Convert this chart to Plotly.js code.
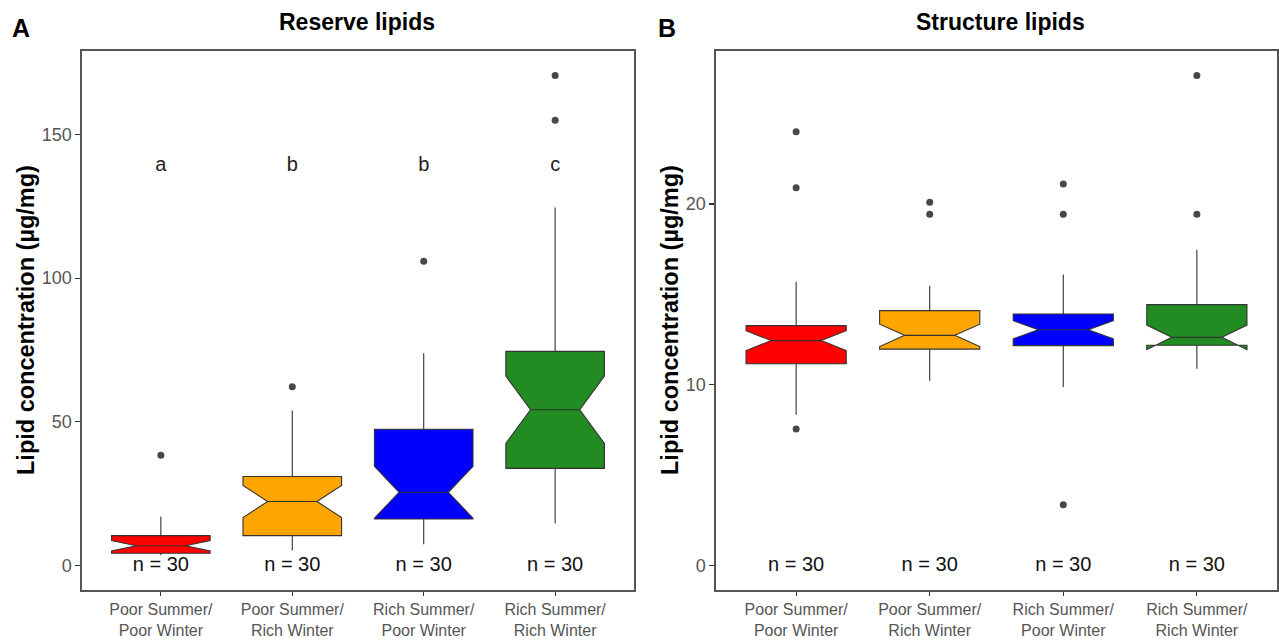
<!DOCTYPE html>
<html><head><meta charset="utf-8">
<script src="https://cdn.plot.ly/plotly-3.0.1.min.js"></script>
<style>body{margin:0;background:#fff}#chart{width:1279px;height:641px}</style>
</head><body><div id="chart"></div>
<script>
const groups = ['PP', 'PR', 'RP', 'RR'];
const groupLabels = ['Poor Summer/<br>Poor Winter', 'Poor Summer/<br>Rich Winter', 'Rich Summer/<br>Poor Winter', 'Rich Summer/<br>Rich Winter'];
const colors = ['#FF0000', '#FFA500', '#0000FF', '#228B22'];
const nLabels = ['n = 30', 'n = 30', 'n = 30', 'n = 30'];

// Reserve lipids (panel A)
const resQ1 = [4.3, 10.4, 16.2, 33.8];
const resMed = [6.9, 22.3, 25.5, 54.2];
const resQ3 = [10.4, 31.0, 47.4, 74.5];
const resLow = [3.6, 5.2, 7.4, 14.7];
const resHigh = [17.1, 53.9, 73.9, 124.6];
const resNotch = [1.82, 5.6, 9.0, 11.7];
const resOutGroup = ['PP', 'PR', 'RP', 'RR', 'RR'];
const resOutVal = [38.4, 62.2, 105.9, 154.9, 170.5];
const resLetters = ['a', 'b', 'b', 'c'];
const resLetterY = [139, 139, 139, 139];

// Structure lipids (panel B)
const strQ1 = [11.16, 11.97, 12.16, 12.18];
const strMed = [12.44, 12.73, 13.04, 12.62];
const strQ3 = [13.27, 14.1, 13.91, 14.43];
const strLow = [8.34, 10.22, 9.87, 10.89];
const strHigh = [15.7, 15.47, 16.1, 17.46];
const strNotch = [0.55, 0.62, 0.5, 0.68];
const strOutGroup = ['PP', 'PP', 'PP', 'PR', 'PR', 'RP', 'RP', 'RP', 'RR', 'RR'];
const strOutVal = [24.0, 20.9, 7.55, 20.1, 19.43, 21.1, 19.43, 3.36, 27.1, 19.43];

const W = 1279, H = 641;
const px = x => x / W, py = y => 1 - y / H;
const FONT = 'Liberation Sans, Arial, sans-serif';

const traces = [];
function addBoxes(q1, med, q3, lo, hi, notch, xa, ya) {
  groups.forEach((g, i) => {
    traces.push({
      type: 'box', x: [g], q1: [q1[i]], median: [med[i]], q3: [q3[i]],
      lowerfence: [lo[i]], upperfence: [hi[i]], notchspan: [notch[i]],
      notched: true, notchwidth: 0.25, width: 0.75, whiskerwidth: 0,
      fillcolor: colors[i], line: {color: '#333333', width: 1.1},
      boxpoints: false, hoverinfo: 'skip', showlegend: false,
      xaxis: xa, yaxis: ya
    });
  });
}
addBoxes(resQ1, resMed, resQ3, resLow, resHigh, resNotch, 'x', 'y');
addBoxes(strQ1, strMed, strQ3, strLow, strHigh, strNotch, 'x2', 'y2');

traces.push({type: 'scatter', mode: 'markers', x: resOutGroup, y: resOutVal, xaxis: 'x', yaxis: 'y',
  marker: {color: '#484848', size: 7}, showlegend: false, hoverinfo: 'skip'});
traces.push({type: 'scatter', mode: 'markers', x: strOutGroup, y: strOutVal, xaxis: 'x2', yaxis: 'y2',
  marker: {color: '#484848', size: 7}, showlegend: false, hoverinfo: 'skip'});

traces.push({type: 'scatter', mode: 'text', x: groups, y: resLetterY, text: resLetters,
  xaxis: 'x', yaxis: 'y', textfont: {family: FONT, size: 20, color: '#222'}, showlegend: false, hoverinfo: 'skip'});
traces.push({type: 'scatter', mode: 'text', x: groups, y: [0, 0, 0, 0], text: nLabels,
  xaxis: 'x', yaxis: 'y', textfont: {family: FONT, size: 20, color: '#111'}, showlegend: false, hoverinfo: 'skip'});
traces.push({type: 'scatter', mode: 'text', x: groups, y: [0, 0, 0, 0], text: nLabels,
  xaxis: 'x2', yaxis: 'y2', textfont: {family: FONT, size: 20, color: '#111'}, showlegend: false, hoverinfo: 'skip'});

const xBase = {
  type: 'category', categoryarray: groups, categoryorder: 'array', tickvals: groups, ticktext: groupLabels,
  range: [-0.6, 3.6], showgrid: false, zeroline: false, showline: true, mirror: true,
  linecolor: '#555', linewidth: 1.6, ticks: 'outside', ticklen: 4, tickcolor: '#333', tickwidth: 1.2,
  tickfont: {family: FONT, size: 16, color: '#555'}, fixedrange: true
};
const yBase = {
  showgrid: false, zeroline: false, showline: true, mirror: true,
  linecolor: '#555', linewidth: 1.6, ticks: 'outside', ticklen: 5, tickcolor: '#333', tickwidth: 1.2,
  tickfont: {family: FONT, size: 18, color: '#555'}, fixedrange: true, domain: [py(590), py(51)]
};

const ann = (text, x, y, size, extra) => Object.assign({
  text: text, x: px(x), y: py(y), xref: 'paper', yref: 'paper', showarrow: false,
  xanchor: 'center', yanchor: 'middle', font: {family: FONT, size: size, color: '#000'}
}, extra || {});

const layout = {
  width: W, height: H, autosize: false, margin: {l: 0, r: 0, t: 0, b: 0},
  paper_bgcolor: '#fff', plot_bgcolor: '#fff', boxmode: 'overlay', showlegend: false,
  xaxis: Object.assign({}, xBase, {domain: [px(82), px(634)], anchor: 'y'}),
  xaxis2: Object.assign({}, xBase, {domain: [px(716), px(1277)], anchor: 'y2'}),
  yaxis: Object.assign({}, yBase, {range: [-8.5, 179], tickvals: [0, 50, 100, 150], anchor: 'x'}),
  yaxis2: Object.assign({}, yBase, {range: [-1.355, 28.46], tickvals: [0, 10, 20], anchor: 'x2'}),
  annotations: [
    ann('<b>A</b>', 21, 28, 25),
    ann('<b>B</b>', 667, 28, 25),
    ann('<b>Reserve lipids</b>', 357, 22, 23),
    ann('<b>Structure lipids</b>', 1000, 22, 23),
    ann('<b>Lipid concentration (µg/mg)</b>', 26, 320, 23.5, {textangle: -90}),
    ann('<b>Lipid concentration (µg/mg)</b>', 670, 320, 23.5, {textangle: -90})
  ]
};

Plotly.newPlot('chart', traces, layout, {displayModeBar: false, staticPlot: true});
</script>
</body></html>
